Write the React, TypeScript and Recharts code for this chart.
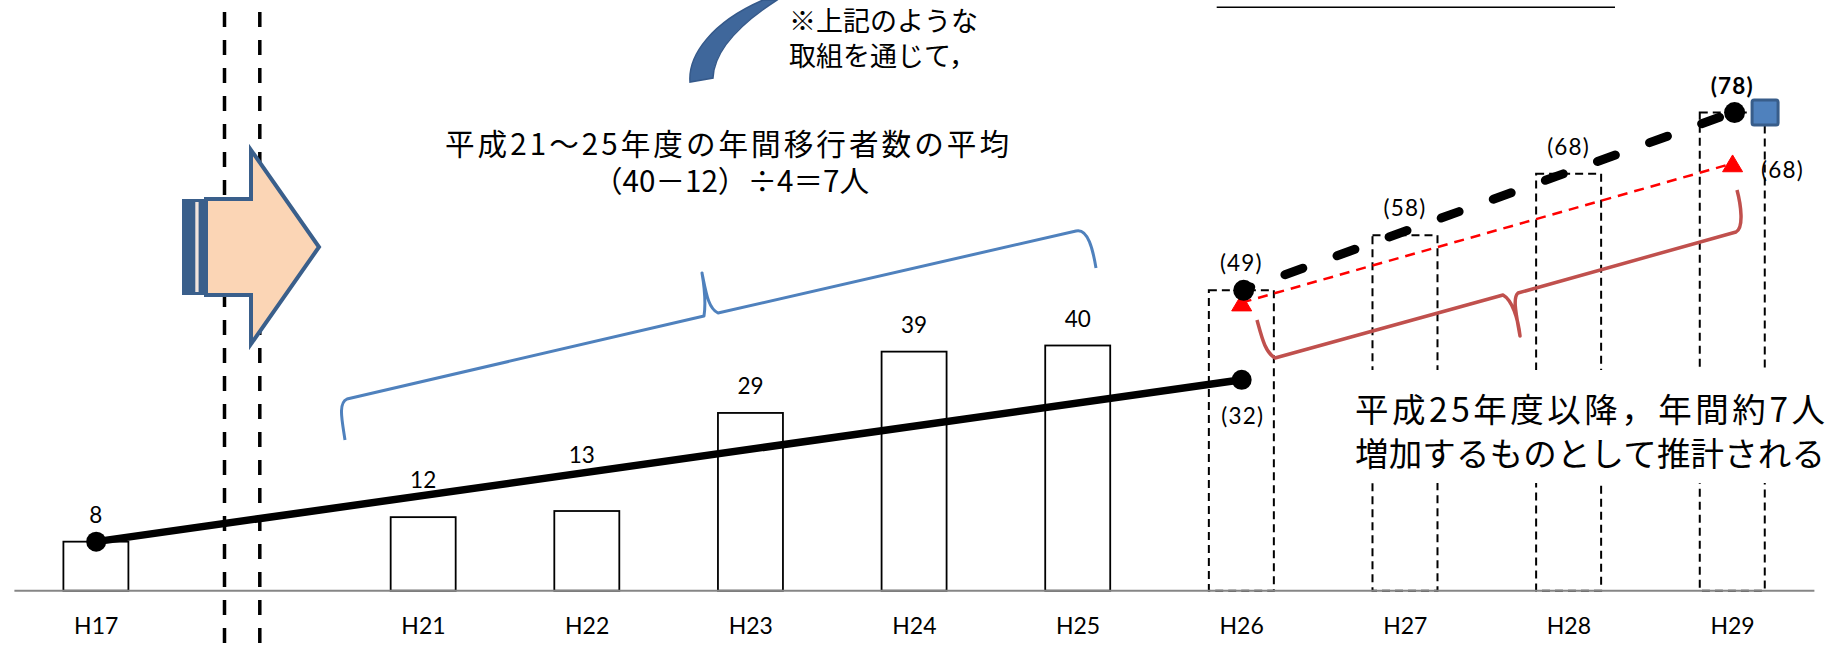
import React from 'react';
import { ComposedChart, Bar, Line, XAxis, YAxis } from 'recharts';

// ---- data ----
const categories = ['H17', '', 'H21', 'H22', 'H23', 'H24', 'H25', 'H26', 'H27', 'H28', 'H29'];
const moverCounts = [8, null, 12, 13, 29, 39, 40, null, null, null, null];
const projectedCounts = [null, null, null, null, null, null, null, 49, 58, 68, 78];
const barLabels = ['8', '', '12', '13', '29', '39', '40', '(49)', '(58)', '(68)', '(78)'];
const actualTrend = [8, null, null, null, null, null, null, 34.4, null, null, null];
const actualTrendLabels = ['', '', '', '', '', '', '', '(32)', '', '', ''];
const targetTrend = [null, null, null, null, null, null, null, 49, null, null, 78];
const estimateTrend = [null, null, null, null, null, null, null, 47, null, null, 69.7];
const estimateLabels = ['', '', '', '', '', '', '', '', '', '', '(68)'];
const goalMarker = [null, null, null, null, null, null, null, null, null, null, 78];

const rows = categories.map((name, i) => ({
  name,
  count: moverCounts[i] ?? projectedCounts[i],
  projected: projectedCounts[i] != null,
  barLabel: barLabels[i],
  actual: actualTrend[i],
  actualLabel: actualTrendLabels[i],
  target: targetTrend[i],
  estimate: estimateTrend[i],
  estimateLabel: estimateLabels[i],
  goal: goalMarker[i],
}));

const FONT_LATIN = "Lato, 'Noto Sans CJK JP', sans-serif";
const FONT_CJK = "'Noto Sans CJK JP', sans-serif";

const labelShift: Record<string, { dx: number; dy: number }> = {
  H21: { dx: 0, dy: -10 },
  H22: { dx: -5, dy: -28.7 },
};

const ok = (v: any) => typeof v === 'number' && isFinite(v);

function BarShape(props: any) {
  const { x, y, width, height, payload } = props;
  if (!payload || payload.count == null || !ok(x) || !ok(y)) return <g />;
  const shift = labelShift[payload.name] || { dx: 0, dy: 0 };
  const proj = payload.projected;
  return (
    <g>
      <rect
        x={x}
        y={y}
        width={width}
        height={height}
        fill={proj ? 'none' : '#fff'}
        stroke="#000"
        strokeWidth={proj ? 2 : 1.8}
        strokeDasharray={proj ? '8 5' : undefined}
      />
      <text
        x={x + width / 2 + shift.dx}
        y={y - 19 + shift.dy}
        textAnchor="middle"
        fontFamily={FONT_LATIN}
        fontSize={22.5}
        fontWeight={payload.name === 'H29' ? 700 : 400}
        letterSpacing={proj ? 1.2 : 0}
        fill="#000"
      >
        {payload.barLabel}
      </text>
    </g>
  );
}

function XTick(props: any) {
  const { x, y, payload } = props;
  if (!payload || !payload.value) return <g />;
  return (
    <text x={x} y={y + 43} textAnchor="middle" fontFamily={FONT_LATIN} fontSize={23} fill="#000">
      {payload.value}
    </text>
  );
}

const actualDot = (props: any) => {
  const { cx, cy, index, payload } = props;
  if (!ok(cx) || !ok(cy) || !payload || payload.actual == null) return <g key={`a-${index}`} />;
  return (
    <g key={`a-${index}`}>
      <circle cx={cx} cy={cy} r={10} fill="#000" />
      {payload.actualLabel ? (
        <text x={cx + 1} y={cy + 44} textAnchor="middle" fontFamily={FONT_LATIN} fontSize={22.5} letterSpacing={1.2} fill="#000">
          {payload.actualLabel}
        </text>
      ) : null}
    </g>
  );
};

const targetDot = (props: any) => {
  const { cx, cy, index, payload } = props;
  if (!ok(cx) || !ok(cy) || !payload || payload.target == null) return <g key={`t-${index}`} />;
  return <circle key={`t-${index}`} cx={cx + 2} cy={cy} r={10.5} fill="#000" />;
};

const estimateDot = (props: any) => {
  const { cx, cy, index, payload } = props;
  if (!ok(cx) || !ok(cy) || !payload || payload.estimate == null) return <g key={`e-${index}`} />;
  return (
    <g key={`e-${index}`}>
      <path
        d={`M ${cx} ${cy - 8.5} L ${cx + 10} ${cy + 8.3} L ${cx - 10} ${cy + 8.3} Z`}
        fill="#FF0000"
        stroke="#FF0000"
        strokeWidth={1}
        strokeLinejoin="round"
      />
      {payload.estimateLabel ? (
        <text x={cx + 50} y={cy + 15} textAnchor="middle" fontFamily={FONT_LATIN} fontSize={22.5} letterSpacing={1.2} fill="#000">
          {payload.estimateLabel}
        </text>
      ) : null}
    </g>
  );
};

const goalDot = (props: any) => {
  const { cx, cy, index, payload } = props;
  if (!ok(cx) || !ok(cy) || !payload || payload.goal == null) return <g key={`g-${index}`} />;
  return (
    <rect
      key={`g-${index}`}
      x={cx + 32.5 - 13}
      y={cy - 12.5}
      width={26}
      height={25}
      rx={2}
      fill="#4F81BD"
      stroke="#385D8A"
      strokeWidth={3}
    />
  );
};

function Overlay() {
  return (
    <svg
      width={1842}
      height={649}
      style={{ position: 'absolute', left: 0, top: 0, pointerEvents: 'none' }}
    >
      {/* double dashed separator */}
      <line x1={224.5} y1={12} x2={224.5} y2={649} stroke="#000" strokeWidth={3.5} strokeDasharray="15 13" />
      <line x1={259.8} y1={12} x2={259.8} y2={649} stroke="#000" strokeWidth={3.5} strokeDasharray="15 13" />

      {/* striped block arrow */}
      <rect x={182} y={199} width={24} height={96} fill="#3A5F8B" />
      <rect x={195.3} y={202} width={3.3} height={90} fill="#F1E4DC" />
      <path
        d="M 206 199 L 251 199 L 251 150 L 319 247 L 251 344 L 251 295 L 206 295 Z"
        fill="#FBD5B5"
        stroke="#3A5F8B"
        strokeWidth={4}
        strokeLinejoin="miter"
      />

      {/* curved blue arrow fragment */}
      <path
        d="M 690 82 C 688 55, 712 22, 763 0 L 777 0 C 740 24, 714 50, 713 78 Z"
        fill="#3F679B"
        stroke="#35598A"
        strokeWidth={1.5}
      />

      {/* blue brace */}
      <path
        d="M 345 440 C 342 420, 338 403, 347 399 L 704 316 C 706 303, 704 285, 702 273 C 706 292, 708 308, 718 313 L 1076 231 C 1088 228, 1093 250, 1096 268"
        fill="none"
        stroke="#4F81BD"
        strokeWidth={3}
        strokeLinejoin="round"
      />

      {/* red brace */}
      <path
        d="M 1257 320 C 1262 338, 1265 352, 1275 358 L 1503 295 C 1512 300, 1518 318, 1520 336 C 1517 318, 1512 298, 1518 293 L 1736 232 C 1744 228, 1741 205, 1737 190"
        fill="none"
        stroke="#C0504D"
        strokeWidth={3.5}
        strokeLinejoin="round"
      />

      {/* top-right underline */}
      <line x1={1216.7} y1={7.3} x2={1615} y2={7.3} stroke="#000" strokeWidth={1.6} />

      {/* texts */}
      <text x={789} y={19} fontFamily={FONT_CJK} fontSize={27} dominantBaseline="central" fill="#000">
        ※上記のような
      </text>
      <text x={789} y={54} fontFamily={FONT_CJK} fontSize={27} dominantBaseline="central" fill="#000">
        取組を通じて，
      </text>
      <text
        x={445}
        y={142.5}
        fontFamily={FONT_CJK}
        fontSize={29.6}
        dominantBaseline="central"
        textLength={564}
        lengthAdjust="spacing"
        fill="#000"
      >
        平成21～25年度の年間移行者数の平均
      </text>
      <text x={731} y={179} fontFamily={FONT_CJK} fontSize={29.6} dominantBaseline="central" textAnchor="middle" fill="#000">
        （40－12）÷4＝7人
      </text>

      <rect x={1345} y={370} width={497} height={113} fill="#fff" />
      <text
        x={1355}
        y={407}
        fontFamily={FONT_CJK}
        fontSize={33.5}
        dominantBaseline="central"
        textLength={470}
        lengthAdjust="spacing"
        fill="#000"
      >
        平成25年度以降，年間約7人
      </text>
      <text
        x={1355}
        y={451}
        fontFamily={FONT_CJK}
        fontSize={33.5}
        dominantBaseline="central"
        textLength={470}
        lengthAdjust="spacing"
        fill="#000"
      >
        増加するものとして推計される
      </text>
    </svg>
  );
}

export default function App() {
  return (
    <div style={{ position: 'absolute', left: 0, top: 0, width: 1842, height: 649, background: '#fff' }}>
      <ComposedChart
        width={1842}
        height={649}
        data={rows}
        margin={{ top: 39, right: 27.6, bottom: 28.3, left: 14.4 }}
      >
        <XAxis
          dataKey="name"
          type="category"
          interval={0}
          height={30}
          tickLine={false}
          tickSize={0}
          tickMargin={0}
          axisLine={{ stroke: '#868686', strokeWidth: 2 }}
          tick={<XTick />}
        />
        <YAxis hide type="number" domain={[0, 90]} />
        <Bar dataKey="count" barSize={65} shape={<BarShape />} isAnimationActive={false} />
        <Line
          dataKey="estimate"
          stroke="#FF0000"
          strokeWidth={2.5}
          strokeDasharray="10 7"
          connectNulls
          dot={estimateDot}
          activeDot={false}
          isAnimationActive={false}
        />
        <Line
          dataKey="actual"
          stroke="#000"
          strokeWidth={7.5}
          connectNulls
          dot={actualDot}
          activeDot={false}
          isAnimationActive={false}
        />
        <Line
          dataKey="target"
          stroke="#000"
          strokeWidth={9}
          strokeDasharray="19 36.4"
          strokeDashoffset={9.4}
          strokeLinecap="round"
          connectNulls
          dot={targetDot}
          activeDot={false}
          isAnimationActive={false}
        />
        <Line
          dataKey="goal"
          stroke="none"
          connectNulls
          dot={goalDot}
          activeDot={false}
          isAnimationActive={false}
        />
      </ComposedChart>
      <Overlay />
    </div>
  );
}
